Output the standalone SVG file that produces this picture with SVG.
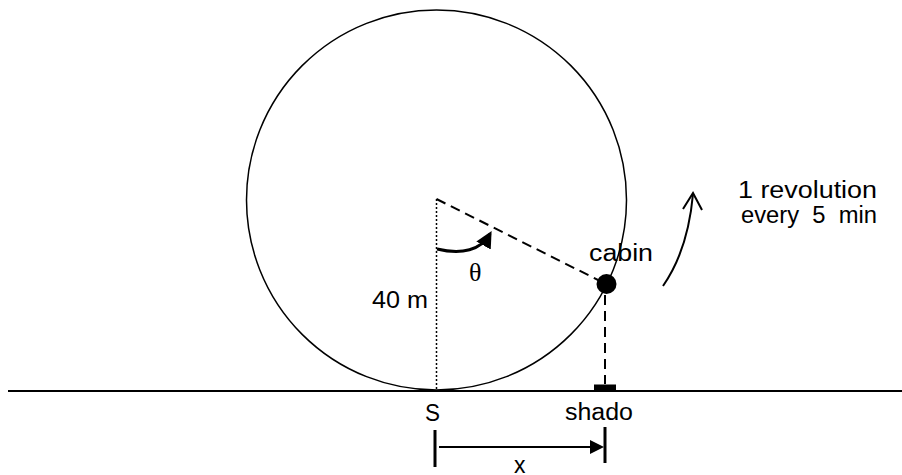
<svg xmlns="http://www.w3.org/2000/svg" width="902" height="475" viewBox="0 0 902 475">
<style>
text{font-family:"Liberation Sans",Arial,sans-serif;font-size:23px;fill:#000;white-space:pre}
.theta{font-family:"Liberation Serif","Times New Roman",serif;font-size:26px}
.thin{fill:none;stroke:#000;stroke-width:1.5}
.dash{fill:none;stroke:#000;stroke-width:2;stroke-dasharray:10,6}
.dot{fill:none;stroke:#000;stroke-width:1.5;stroke-dasharray:2,2}
.bar{stroke:#000;stroke-width:3}
</style>
<defs>
<marker id="tri" viewBox="0 0 10 10" refX="8" refY="5" markerWidth="5.5" markerHeight="5.5" orient="auto" markerUnits="strokeWidth">
<path d="M0,0 L10,5 L0,10 z" fill="#000"/>
</marker>
</defs>
<g id="wheel">
<circle cx="436.5" cy="200" r="190" class="thin"/>
</g>
<g id="ground">
<line x1="8" y1="391" x2="902" y2="391" stroke="#000" stroke-width="2"/>
</g>
<g id="cabin">
<circle cx="606.5" cy="284" r="10" fill="#000"/>
<text x="589" y="261" textLength="64" lengthAdjust="spacingAndGlyphs">cabin</text>
</g>
<g id="shadow">
<rect x="594" y="384.5" width="22" height="6" fill="#000"/>
<text x="565" y="420" textLength="68" lengthAdjust="spacingAndGlyphs">shado</text>
</g>
<g id="S-label"><text x="425" y="421" textLength="15" lengthAdjust="spacingAndGlyphs">S</text></g>
<g id="radius-label"><text x="372" y="308" textLength="56" lengthAdjust="spacingAndGlyphs">40 m</text></g>
<g id="theta-label"><text class="theta" x="469" y="281">θ</text></g>
<g id="rev-label">
<text x="738" y="198" textLength="139" lengthAdjust="spacingAndGlyphs">1 revolution</text>
<text x="741" y="223" textLength="136" lengthAdjust="spacingAndGlyphs">every  5  min</text>
</g>
<g id="x-label"><text x="514" y="473">x</text></g>
<g id="connectors">
<line x1="436.5" y1="199" x2="436.5" y2="390" class="dot"/>
<line x1="436.5" y1="199" x2="600" y2="281" class="dash"/>
<line x1="605" y1="295" x2="605" y2="384" class="dash"/>
<path d="M437,249 C462,255 481,250 490,234" fill="none" stroke="#000" stroke-width="3" marker-end="url(#tri)"/>
<path d="M663,286 Q688,250 693,194" fill="none" stroke="#000" stroke-width="2"/>
<path d="M683,209 L693,193 L702,210" fill="none" stroke="#000" stroke-width="2"/>
<line x1="435" y1="430" x2="435" y2="467" class="bar"/>
<line x1="605" y1="427" x2="605" y2="463" class="bar"/>
<line x1="439" y1="447" x2="592" y2="447" stroke="#000" stroke-width="2"/>
<path d="M590,440 L604,447 L590,454 z" fill="#000"/>
</g>
</svg>
